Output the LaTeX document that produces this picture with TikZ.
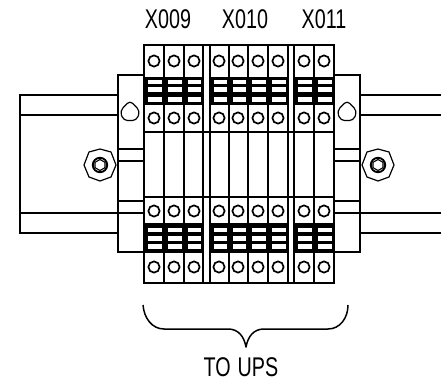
\documentclass[tikz,border=0pt]{standalone}
\usepackage{fontspec}
\setmainfont{Liberation Sans}
\tikzset{
  ln/.style={line width=1.7pt,black,line cap=butt,line join=miter},
  thin ln/.style={line width=1.2pt,black,line join=round},
  lbl/.style={inner sep=0pt,font=\fontsize{23.5}{24}\selectfont,transform shape,xscale=0.84,yscale=1.15}
}
\newcommand{\bolt}[2]{%
  \begin{scope}[shift={(#1,#2)}]
    \draw[thin ln] (0,-16) -- (11,-13) -- (16,0) -- (11,12) -- (0,16) -- (-11,12) -- (-16,0) -- (-11,-13) -- cycle;
    \draw[line width=1.9pt] (0,0) circle (7.2);
    \draw[line width=1.1pt] (0,-5.5) -- (5,-2.7) -- (5,2.7) -- (0,5.5) -- (-5,2.7) -- (-5,-2.7) -- cycle;
  \end{scope}}
\newcommand{\hole}[2]{%
  \draw[thin ln,rounded corners=4pt] (#1,#2-11.5) -- (#1+10,#2-1) -- (#1+6.5,#2+8.5) -- (#1-6.5,#2+8.5) -- (#1-10,#2-1) -- cycle;}
\begin{document}
\begin{tikzpicture}[x=1pt,y=-1pt]
\useasboundingbox (0,0) rectangle (441,382);
\fill[white] (0,0) rectangle (441,382);
% rails
\draw[ln] (118,95) -- (20,95) -- (20,233) -- (118,233);
\draw[ln] (20,115) -- (118,115);
\draw[ln] (20,213) -- (144,213);
\draw[ln] (360,95) -- (441,95);
\draw[ln] (360,115) -- (441,115);
\draw[ln] (334,213) -- (441,213);
\draw[ln] (360,233) -- (441,233);
% side brackets
\draw[ln] (144,75) -- (118,75) -- (118,252) -- (144,252);
\draw[ln] (334,75) -- (360,75) -- (360,252) -- (334,252);
\draw[ln] (118,149) -- (144,149);
\draw[ln] (118,161) -- (144,161);
\draw[ln] (118,201) -- (144,201);
\draw[ln] (334,149) -- (360,149);
\draw[ln] (334,161) -- (360,161);
\draw[ln] (334,201) -- (360,201);
\hole{130}{112}
\hole{347}{112}
\bolt{100}{165}
\bolt{378}{165}
% bands
\foreach \a/\b in {144/164,164/184,184/203,210/229,229/248,248/268,268/288,294/314,314/334}{
  \fill[black] (\a,77.5) rectangle (\b,105.5);
  \fill[white] (\a+3.5,80) rectangle (\b-2.5,84);
  \fill[white] (\a+3.5,87) rectangle (\b-2.5,92);
  \fill[white] (\a+3.5,97) rectangle (\b-2.5,102);
  \fill[black] (\a,223) rectangle (\b,252.5);
  \fill[white] (\a+3.5,227.5) rectangle (\b-2.5,232);
  \fill[white] (\a+3.5,236) rectangle (\b-2.5,240.5);
  \fill[white] (\a+3.5,244) rectangle (\b-2.5,249);
}
% terminal outlines
\draw[ln] (144,45) rectangle (334,283);
\foreach \x in {164,184,203,210,229,248,268,288,294,314}{
  \draw[ln] (\x,45) -- (\x,283);
}
\foreach \y in {132,197}{
  \draw[ln] (144,\y) -- (334,\y);
}
% terminal screws
\foreach \x in {154,174,194,219,238,258,278,304,324}{
  \foreach \y in {61,118,211,267}{
    \draw[ln] (\x,\y) circle (5.6);
  }
}
% labels
\node[lbl] (t1) at (168,19.5) {X009};
\node[lbl] (t2) at (245,19.5) {X010};
\node[lbl] (t3) at (324,19.5) {X011};
\node[lbl] (t4) at (241,367) {TO\hspace{0.35em}UPS};
% brace
\draw[line width=1.5pt,line join=round] (143,305)
  .. controls (144,318) and (152,329) .. (164,329)
  -- (228,329)
  .. controls (238,329) and (244,336) .. (246,347)
  .. controls (248,336) and (254,329) .. (264,329)
  -- (328,329)
  .. controls (340,329) and (348,318) .. (348,305);
\end{tikzpicture}
\end{document}
